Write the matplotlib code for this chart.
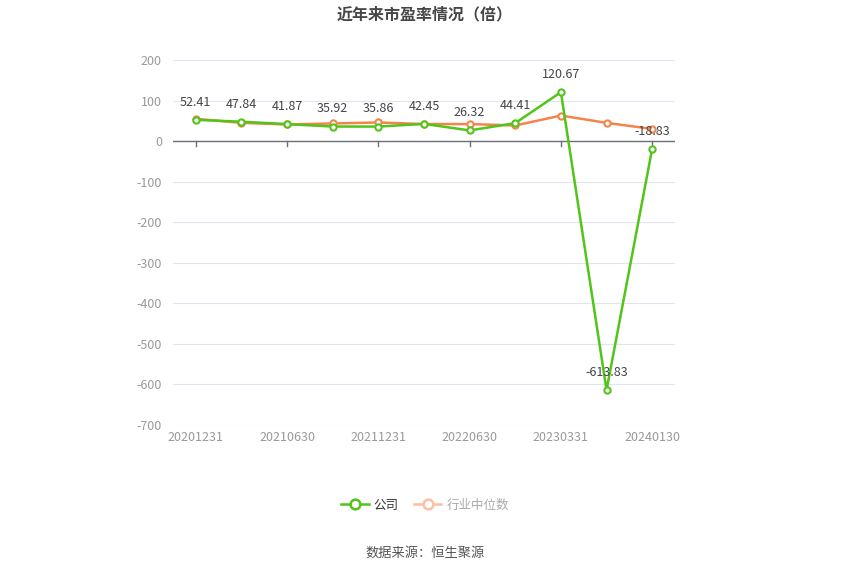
import matplotlib.pyplot as plt
from matplotlib.lines import Line2D

plt.rcParams['font.family'] = ['Noto Sans CJK SC', 'DejaVu Sans']
plt.rcParams['axes.unicode_minus'] = False

GREEN = '#52c41a'; ORANGE = '#f5844a'; GRID = '#e0e6f1'; TICK = '#999999'

dates = ['20201231', '20210331', '20210630', '20210930', '20211231', '20220331',
         '20220630', '20220930', '20230331', '20230630', '20240130']
company = [52.41, 47.84, 41.87, 35.92, 35.86, 42.45, 26.32, 44.41, 120.67, -613.83, -18.83]
industry = [55, 45, 41, 43.5, 46, 42, 42, 38.5, 63, 45, 30]

fig = plt.figure(figsize=(8.5, 5.75), dpi=100, facecolor='white')
ax = fig.add_axes([173/850, 1-425/575, 502/850, 365/575])

x = list(range(len(dates)))
ax.plot(x, industry, color=ORANGE, lw=1.8, marker='o', ms=4.5, mfc='white',
        mec=ORANGE, mew=1.5, zorder=3)
ax.plot(x, company, color=GREEN, lw=1.8, marker='o', ms=4.5, mfc='white',
        mec=GREEN, mew=1.5, zorder=4)

for xi, v in zip(x, company):
    ax.annotate(f'{v:.2f}', (xi, v), xytext=(0, 8), textcoords='offset points',
                ha='center', va='bottom', fontsize=9, color='#444444', zorder=5)

ax.set_xlim(-0.5, len(dates)-0.5)
ax.set_ylim(-700, 200)
ax.set_yticks(range(-700, 201, 100))
ax.tick_params(axis='y', length=0, labelsize=9, labelcolor=TICK, pad=8)
ax.grid(axis='y', color=GRID, lw=0.8)
ax.set_axisbelow(True)
for s in ax.spines.values():
    s.set_visible(False)

# x axis drawn at zero, labels at bottom
ax.axhline(0, color='#6e7079', lw=1, zorder=2)
ax.set_xticks(x[::2])
ax.set_xticklabels(dates[::2])
ax.tick_params(axis='x', length=0, labelsize=9, labelcolor=TICK, pad=4)
for xi in x[::2]:
    ax.plot([xi, xi], [0, -12], color='#6e7079', lw=1, zorder=2, clip_on=False)

fig.text(0.5, 1-14/575, '近年来市盈率情况（倍）', ha='center', va='center',
         fontsize=11.5, fontweight='bold', color='#464646')

handles = [Line2D([], [], color=GREEN, lw=1.8, marker='o', ms=7, mfc='white', mec=GREEN, mew=1.8),
           Line2D([], [], color='#fbbfa3', lw=1.8, marker='o', ms=7, mfc='white', mec='#fbbfa3', mew=1.8)]
leg = fig.legend(handles, ['公司', '行业中位数'], loc='center', bbox_to_anchor=(0.5, 1-505/575),
                 ncol=2, frameon=False, fontsize=9, handlelength=2.2, columnspacing=1.2,
                 handletextpad=0.4)
leg.get_texts()[0].set_color('#333333')
leg.get_texts()[1].set_color('#aaaaaa')

fig.text(0.5, 1-553/575, '数据来源：恒生聚源', ha='center', va='center',
         fontsize=9.5, color='#555555')

fig.savefig('out.png', dpi=100, facecolor='white')
